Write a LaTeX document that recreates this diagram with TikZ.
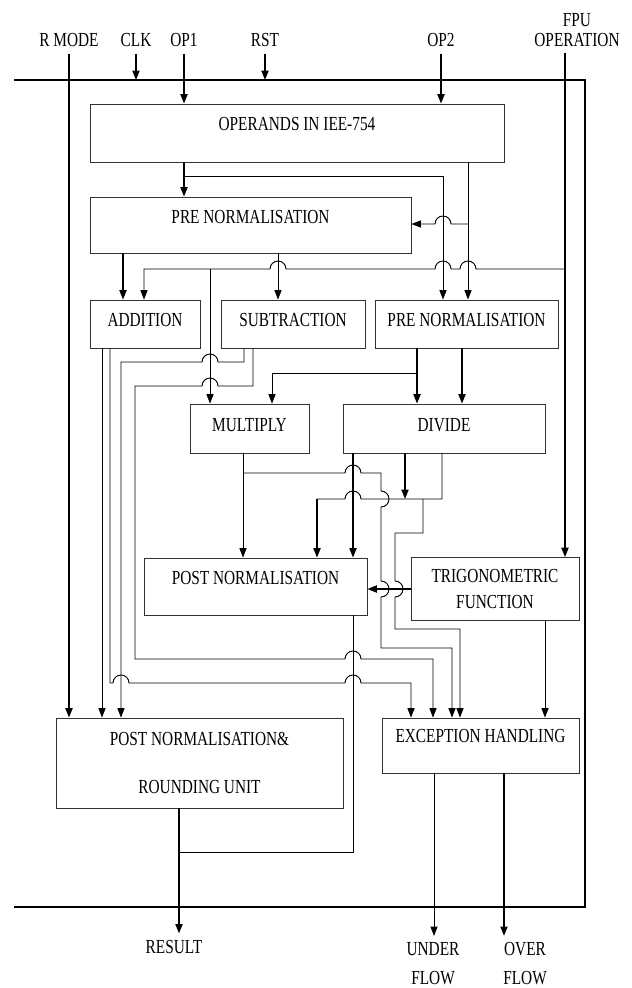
\documentclass[tikz,border=0pt]{standalone}
\usepackage{fontspec}
\setmainfont{Liberation Serif}[FakeStretch=0.77]
\usetikzlibrary{arrows.meta}

\begin{document}
\begin{tikzpicture}[x=0.03cm, y=-0.03cm,
  font=\fontsize{17}{22.6}\selectfont,
  >={Triangle[length=8pt,width=6pt]},
  block/.style={draw=black!80, line width=0.7pt, inner sep=0pt, align=center},
  capline/.style={text height=0.4cm, text depth=#1},
  sig/.style={inner sep=0.2cm, align=center},
  wire/.style={line width=0.8pt},
  bus/.style={line width=1.4pt},
  frame/.style={line width=1.1pt}]

\useasboundingbox (0,0) rectangle (631,988);

\node[sig] (rmode) at (69,40) {R MODE};
\node[sig] (clk) at (136,40) {CLK};
\node[sig] (op1) at (184,40) {OP1};
\node[sig] (rst) at (265,40) {RST};
\node[sig] (op2) at (441,40) {OP2};
\node[sig, font=\fontsize{17}{17}\selectfont] (fpu) at (577,30) {FPU\\OPERATION};

\node[block, capline=0.52cm, minimum width=12.42cm, minimum height=1.74cm] (opnd) at (297,133) {OPERANDS IN IEE-754};
\node[block, capline=0.52cm, minimum width=9.63cm, minimum height=1.68cm] (pre1) at (250.5,225) {PRE NORMALISATION};

\node[block, capline=0.28cm, minimum width=3.30cm, minimum height=1.44cm] (add) at (145,324) {ADDITION};
\node[block, capline=0.28cm, minimum width=4.32cm, minimum height=1.44cm] (sub) at (293,324) {SUBTRACTION};
\node[block, capline=0.28cm, minimum width=5.49cm, minimum height=1.44cm] (pre2) at (466.5,324) {PRE NORMALISATION};

\node[block, capline=0.25cm, minimum width=3.57cm, minimum height=1.47cm] (mul) at (249.5,428.5) {MULTIPLY};
\node[block, capline=0.25cm, minimum width=6.06cm, minimum height=1.47cm] (div) at (444,428.5) {DIVIDE};

\node[block, capline=0.55cm, minimum width=6.69cm, minimum height=1.71cm] (post) at (255.5,586.5) {POST NORMALISATION};
\node[block, minimum width=5.04cm, minimum height=1.89cm] (trig) at (495,589) {TRIGONOMETRIC\\FUNCTION};

\node[block, minimum width=8.61cm, minimum height=2.70cm] (round) at (199.5,763) {POST NORMALISATION\&\\[19pt]ROUNDING UNIT};
\node[block, capline=0.61cm, minimum width=5.91cm, minimum height=1.65cm] (exc) at (480.5,745.5) {EXCEPTION HANDLING};

\node[sig] (result) at (174,947) {RESULT};
\node[sig, font=\fontsize{17}{24.7}\selectfont] (under) at (433,964) {UNDER\\FLOW};
\node[sig, font=\fontsize{17}{24.7}\selectfont] (over) at (525,964) {OVER\\FLOW};

\coordinate (ftl) at (14,80);
\coordinate (ftr) at (585,80);
\coordinate (fbr) at (585,907);
\coordinate (fbl) at (14,907);

\draw[frame] (ftl) -- (ftr) -- (fbr) -- (fbl);

\draw[bus,->] (rmode.south) -- (rmode.south |- round.north);
\draw[bus,->] (clk.south) -- (clk.south |- ftl);
\draw[bus,->] (op1.south) -- (op1.south |- opnd.north);
\draw[bus,->] (rst.south) -- (rst.south |- ftl);
\draw[bus,->] (op2.south) -- (op2.south |- opnd.north);
\draw[bus,->] (565,0 |- fpu.south) -- (565,0 |- trig.north);

\draw[bus,->] (184,0 |- opnd.south) -- (184,0 |- pre1.north);
\draw[wire,->] (184,176) -- (443,176) -- (443,0 |- pre2.north);
\draw[wire,->] (468,0 |- opnd.south) -- (468,0 |- pre2.north);
\draw[wire,->] (468,224) -- (451,224) arc[start angle=0,end angle=-180,radius=8] -- (pre1.east |- 0,224);

\draw[wire,->] (565,269) -- (476,269) arc[start angle=0,end angle=-180,radius=8]
  -- (451,269) arc[start angle=0,end angle=-180,radius=8]
  -- (286,269) arc[start angle=0,end angle=-180,radius=8]
  -- (144,269) -- (144,0 |- add.north);
\draw[wire,->] (210,269) -- (210,0 |- mul.north);

\draw[bus,->] (123,0 |- pre1.south) -- (123,0 |- add.north);
\draw[wire,->] (278,0 |- pre1.south) -- (278,0 |- sub.north);

\draw[bus,->] (417,0 |- pre2.south) -- (417,0 |- div.north);
\draw[wire,->] (417,373) -- (272,373) -- (272,0 |- mul.north);
\draw[bus,->] (462,0 |- pre2.south) -- (462,0 |- div.north);

\draw[wire,->] (102,0 |- add.south) -- (102,0 |- round.north);
\draw[wire,->] (110,0 |- add.south) -- (110,683) -- (113,683) arc[start angle=180,end angle=360,radius=8]
  -- (345,683) arc[start angle=180,end angle=360,radius=8]
  -- (411,683) -- (411,0 |- exc.north);

\draw[wire,->] (244,0 |- sub.south) -- (244,362) -- (218,362) arc[start angle=0,end angle=-180,radius=8]
  -- (121,362) -- (121,0 |- round.north);
\draw[wire,->] (253,0 |- sub.south) -- (253,386) -- (218,386) arc[start angle=0,end angle=-180,radius=8]
  -- (135,386) -- (135,659) -- (345,659) arc[start angle=180,end angle=360,radius=8]
  -- (433,659) -- (433,0 |- exc.north);

\draw[wire,->] (243,0 |- mul.south) -- (243,0 |- post.north);
\draw[wire,->] (243,473) -- (345,473) arc[start angle=180,end angle=360,radius=8]
  -- (381,473) -- (381,491) arc[start angle=-90,end angle=90,radius=8]
  -- (381,581) arc[start angle=-90,end angle=90,radius=8]
  -- (381,648) -- (452,648) -- (452,0 |- exc.north);

\draw[bus,->] (353,0 |- div.south) -- (353,0 |- post.north);
\draw[bus,->] (405,0 |- div.south) -- (405,499);
\draw[wire] (442,0 |- div.south) -- (442,499) -- (361,499) arc[start angle=0,end angle=-180,radius=8] -- (317,499);
\draw[bus,->] (317,499) -- (317,0 |- post.north);
\draw[wire,->] (423,499) -- (423,533) -- (395,533) -- (395,581) arc[start angle=-90,end angle=90,radius=8]
  -- (395,629) -- (460,629) -- (460,0 |- exc.north);

\draw[bus,->] (trig.west) -- (post.east |- trig.west);
\draw[wire,->] (545,0 |- trig.south) -- (545,0 |- exc.north);

\draw[wire] (353,0 |- post.south) -- (353,852) -- (179,852);
\draw[bus,->] (179,0 |- round.south) -- (179,0 |- result.north);
\draw[wire,->] (434,0 |- exc.south) -- (434,0 |- under.north);
\draw[bus,->] (504,0 |- exc.south) -- (504,0 |- over.north);

\end{tikzpicture}
\end{document}
